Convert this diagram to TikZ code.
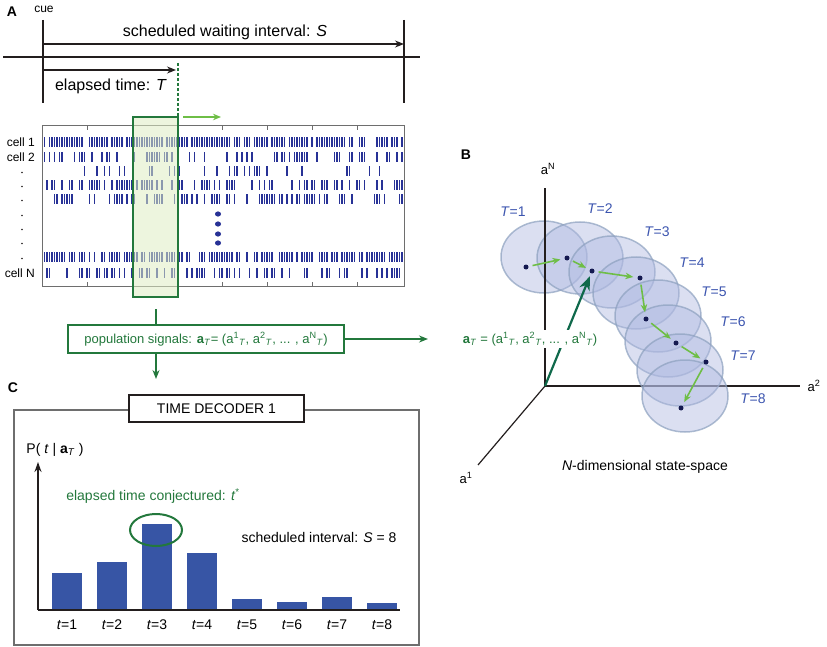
\documentclass[tikz,border=0pt]{standalone}
\usepackage{fontspec}
\setmainfont{Liberation Sans}
\usetikzlibrary{arrows.meta}
\definecolor{dkgreen}{RGB}{35,120,60}
\definecolor{ltgreen}{RGB}{110,190,70}
\definecolor{hlfill}{RGB}{222,236,195}
\definecolor{spikeblue}{RGB}{40,50,150}
\definecolor{barblue}{RGB}{55,85,165}
\definecolor{tblue}{RGB}{60,85,175}
\definecolor{dotnavy}{RGB}{20,25,80}
\definecolor{ellfill}{RGB}{175,185,225}
\definecolor{elldraw}{RGB}{140,160,190}
\definecolor{tealgreen}{RGB}{15,105,75}
\definecolor{linegray}{RGB}{110,110,110}
\definecolor{ink}{RGB}{35,30,30}
\tikzset{
  f16/.style={font=\fontsize{16}{18}\selectfont},
  f14/.style={font=\fontsize{14}{16}\selectfont},
  f13/.style={font=\fontsize{13}{15}\selectfont},
  f12/.style={font=\fontsize{12}{14}\selectfont},
  panel/.style={font=\bfseries\fontsize{14}{16}\selectfont, inner sep=0},
  blackarr/.style={draw=ink, line width=1.2, -{Stealth[length=9,width=7]}},
  ltarr/.style={draw=ltgreen, line width=1.6, -{Stealth[length=8,width=6.5]}, shorten >=4, shorten <=4},
  dkarr/.style={draw=dkgreen, line width=1.4, -{Stealth[length=9,width=7]}},
  stateell/.style={fill=ellfill, fill opacity=0.45, draw=elldraw, draw opacity=0.7, line width=1.5},
  statedot/.style={circle, fill=dotnavy, inner sep=0, minimum size=5},
  tlab/.style={f14, text=tblue},
  bar/.style={fill=barblue, draw=none}
}
\begin{document}
\begin{tikzpicture}[x=1pt,y=-1pt]
\useasboundingbox (0,0) rectangle (827,647);

% ---------------- Panel A ----------------
\node[panel] (lA) at (12,12) {A};
\node[f12, inner sep=0] (cue) at (44,9) {cue};
\coordinate (cueT) at (43,20); \coordinate (cueB) at (43,103);
\coordinate (sT) at (404,20);  \coordinate (sB) at (404,103);
\coordinate (mainL) at (3,57); \coordinate (mainR) at (420,57);
\draw[ink, line width=1.2] (cueT) -- (cueB);
\draw[ink, line width=1.2] (sT) -- (sB);
\draw[ink, line width=2] (mainL) -- (mainR);
\coordinate (s0) at (43,44); \coordinate (s1) at (404,44);
\draw[blackarr] (s0) -- (s1);
\node[f16, inner sep=0] (stext) at (225,32) {scheduled waiting interval: \textit{S}};
\coordinate (e0) at (43,70); \coordinate (e1) at (176,70);
\draw[blackarr] (e0) -- (e1);
\node[f16, inner sep=0] (etext) at (111,86) {elapsed time: \textit{T}};
\coordinate (d0) at (178,63); \coordinate (d1) at (178,116);
\draw[dkgreen, line width=1.6, dash pattern=on 3 off 2] (d0) -- (d1);

% raster
\draw[linegray, line width=1] (42,126) rectangle (404,286);
\foreach \x in {87,132,177,222,267,312,357}{
  \draw[linegray, line width=1] (\x,126) -- (\x,130);
  \draw[linegray, line width=1] (\x,286) -- (\x,282);
}
\pgfmathsetseed{11}
\foreach \yy/\pp in {142/0.80,157/0.42,171/0.20,185/0.44,199/0.48,257/0.70,273/0.40}{
  \foreach \i in {0,...,143}{
    \pgfmathsetmacro{\rv}{rnd}
    \pgfmathsetmacro{\xx}{44.5+2.5*\i}
    \ifdim\rv pt<\pp pt
      \fill[spikeblue] (\xx-0.95,\yy-5) rectangle (\xx+0.95,\yy+5);
    \fi
  }
}
\foreach \yy in {214,224,234,243}{
  \fill[spikeblue] (218,\yy) ellipse [x radius=3, y radius=2.6];
}
\node[f12, anchor=east, inner sep=0] (c1) at (35,142) {cell 1};
\node[f12, anchor=east, inner sep=0] (c2) at (35,157) {cell 2};
\node[f12, anchor=east, inner sep=0] (cN) at (35,273) {cell N};
\foreach \yy in {171,185,199,214,228,242,257}{
  \fill[ink] (22,\yy+1.5) circle (0.8);
}
\node[fill=hlfill, fill opacity=0.55, draw=dkgreen, draw opacity=1, line width=1.3,
      minimum width=45, minimum height=180, inner sep=0] (win) at (155.5,207) {};
\coordinate (g0) at (183,117); \coordinate (g1) at (221,117);
\draw[draw=ltgreen, line width=1.6, -{Stealth[length=8,width=6.5]}] (g0) -- (g1);

% population signals box
\node[f13, draw=dkgreen, line width=1.2, fill=white, text=dkgreen,
      minimum width=276, minimum height=28, inner sep=0] (pop) at (206,339)
  {population signals: \textbf{a}\textsubscript{\textit{T}}= (a\textsuperscript{1}\textsubscript{\textit{T}}, a\textsuperscript{2}\textsubscript{\textit{T}}, ... , a\textsuperscript{N}\textsubscript{\textit{T}})};
\coordinate (winb) at (156,309);
\draw[dkgreen, line width=1.4] (winb) -- (winb |- pop.north);
\coordinate (popdown) at (156,379);
\draw[dkarr] (pop.south -| popdown) -- (popdown);
\coordinate (popright) at (428,339);
\draw[dkarr] (pop.east) -- (popright);

% ---------------- Panel C ----------------
\node[panel] (lC) at (13,388) {C};
\draw[linegray, line width=1.2] (14,410) rectangle (419,645);
\node[f14, draw=ink, line width=1.2, fill=white, minimum width=175, minimum height=27, inner sep=0] (dec) at (216.5,408.5) {TIME DECODER 1};
\coordinate (orgC) at (38,610); \coordinate (yC) at (38,462); \coordinate (xC) at (400,610);
\draw[ink, line width=1.6, -{Stealth[length=10,width=7]}] (orgC) -- (yC);
\draw[ink, line width=1.6] (orgC) -- (xC);
\node[f14, inner sep=0] (plab) at (55,450) {P( \textit{t} | \textbf{a}\textsubscript{\textit{T}} )};
\foreach \k/\x/\top in {1/52/573, 2/97/562, 3/142/524, 4/187/553, 5/232/599, 6/277/602, 7/322/597, 8/367/603}{
  \fill[barblue] (\x,\top) rectangle (\x+30,609);
  \node[f14, inner sep=0] (tl\k) at (\x+15,625) {\textit{t}=\k};
}
\draw[dkgreen, line width=2] (156,530) ellipse [x radius=26, y radius=16];
\node[f14, inner sep=0, text=dkgreen] (conj) at (153,496) {elapsed time conjectured: \textit{t}\textsuperscript{*}};
\node[f14, inner sep=0] (sched) at (319,537) {scheduled interval: \textit{S} = 8};

% ---------------- Panel B ----------------
\node[panel] (lB) at (466,155) {B};
\coordinate (O) at (545,386);
\coordinate (aNend) at (545,188);
\coordinate (a2end) at (800,386);
\coordinate (a1end) at (478,465);
\draw[ink, line width=1.2] (O) -- (a2end);
\draw[ink, line width=1.2] (O) -- (a1end);
\foreach \cx/\cy in {544/257, 580/258, 612/272, 636/293, 658/316, 668/341, 680/370, 685/396}{
  \path[stateell] (\cx,\cy) ellipse [x radius=43, y radius=36];
}
\draw[ink, line width=1.2] (O) -- (aNend);
\node[f13, inner sep=0] (aNlab) at (548,169) {a\textsuperscript{N}};
\node[f13, inner sep=0] (a2lab) at (814,386) {a\textsuperscript{2}};
\node[f13, inner sep=0] (a1lab) at (466,478) {a\textsuperscript{1}};
\node[f14, inner sep=0] (nlab) at (645,467) {\textit{N}-dimensional state-space};

\node[statedot] (p1) at (526,267) {};
\node[statedot] (p2) at (567,258) {};
\node[statedot] (p3) at (592,271) {};
\node[statedot] (p4) at (640,278) {};
\node[statedot] (p5) at (646,319) {};
\node[statedot] (p6) at (676,343) {};
\node[statedot] (p7) at (706,362) {};
\node[statedot] (p8) at (681,408) {};
\draw[ltarr] (p1) -- (p2);
\draw[ltarr] (p2) -- (p3);
\draw[ltarr] (p3) -- (p4);
\draw[ltarr] (p4) -- (p5);
\draw[ltarr] (p5) -- (p6);
\draw[ltarr] (p6) -- (p7);
\draw[ltarr] (p7) -- (p8);

\draw[tealgreen, line width=2.2, -{Stealth[length=14,width=11]}, shorten >=3] (O) -- (p3);
\node[f13, fill=white, inner sep=2, text=dkgreen] (aT) at (530,339)
  {\textbf{a}\textsubscript{\textit{T}} = (a\textsuperscript{1}\textsubscript{\textit{T}}, a\textsuperscript{2}\textsubscript{\textit{T}}, ... , a\textsuperscript{N}\textsubscript{\textit{T}})};

\node[tlab, inner sep=0] (T1) at (513,212) {\textit{T}=1};
\node[tlab, inner sep=0] (T2) at (600,209) {\textit{T}=2};
\node[tlab, inner sep=0] (T3) at (657,232) {\textit{T}=3};
\node[tlab, inner sep=0] (T4) at (692,263) {\textit{T}=4};
\node[tlab, inner sep=0] (T5) at (714,292) {\textit{T}=5};
\node[tlab, inner sep=0] (T6) at (733,322) {\textit{T}=6};
\node[tlab, inner sep=0] (T7) at (743,356) {\textit{T}=7};
\node[tlab, inner sep=0] (T8) at (753,399) {\textit{T}=8};
\end{tikzpicture}
\end{document}
